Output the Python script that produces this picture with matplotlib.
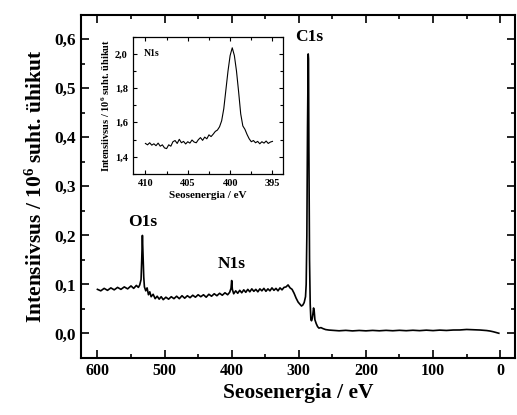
import numpy as np
import matplotlib
matplotlib.use("Agg")
import matplotlib.pyplot as plt
from matplotlib.ticker import MultipleLocator, FuncFormatter

plt.rcParams['font.family'] = ['Liberation Serif', 'DejaVu Serif']
plt.rcParams['font.weight'] = 'bold'
plt.rcParams['mathtext.fontset'] = 'custom'
plt.rcParams['mathtext.rm'] = 'Liberation Serif:bold'
plt.rcParams['mathtext.bf'] = 'Liberation Serif:bold'
plt.rcParams['mathtext.default'] = 'rm'

# ülevaatespekter
energy = [600, 595, 590, 585, 580, 575, 570, 565, 560, 555, 550, 546, 542, 539, 537,
          535, 534, 533, 532, 531, 530, 528, 526, 524, 522, 520, 517, 514, 511, 508,
          505, 502, 498, 494, 490, 486, 482, 478, 474, 470, 466, 462, 458, 454, 450,
          446, 442, 438, 434, 430, 426, 422, 418, 414, 410, 406, 403, 401, 400, 399,
          397, 394, 391, 388, 385, 382, 379, 376, 373, 370, 367, 364, 361, 358, 355,
          352, 349, 346, 343, 340, 337, 334, 331, 328, 325, 322, 319, 316, 313, 310,
          307, 304, 301, 298, 296, 294, 292, 290, 289, 288, 287, 286, 285.5, 285, 284,
          283, 282, 281, 280, 279, 278, 277, 276, 274, 272, 270, 267, 264, 260, 255,
          250, 240, 230, 220, 210, 200, 190, 180, 170, 160, 150, 140, 130, 120, 110,
          100, 90, 80, 70, 60, 50, 40, 30, 20, 15, 10, 5, 2]
intensity = [0.090, 0.087, 0.092, 0.088, 0.093, 0.089, 0.094, 0.090, 0.095, 0.091, 0.097, 0.092, 0.098, 0.094, 0.099,
             0.110, 0.150, 0.200, 0.160, 0.115, 0.095, 0.087, 0.093, 0.079, 0.085, 0.075, 0.080, 0.071, 0.076, 0.070,
             0.075, 0.069, 0.074, 0.070, 0.075, 0.071, 0.076, 0.071, 0.077, 0.072, 0.077, 0.073, 0.078, 0.074, 0.079,
             0.075, 0.079, 0.074, 0.080, 0.076, 0.081, 0.077, 0.082, 0.078, 0.083, 0.079, 0.084, 0.092, 0.108, 0.090,
             0.081, 0.087, 0.082, 0.088, 0.083, 0.089, 0.084, 0.090, 0.085, 0.091, 0.086, 0.090, 0.085, 0.091, 0.087,
             0.092, 0.086, 0.091, 0.087, 0.093, 0.088, 0.092, 0.087, 0.093, 0.089, 0.094, 0.095, 0.099, 0.093, 0.090,
             0.082, 0.072, 0.064, 0.059, 0.056, 0.058, 0.063, 0.075, 0.100, 0.200, 0.420, 0.570, 0.560, 0.380, 0.150,
             0.060, 0.028, 0.026, 0.030, 0.040, 0.052, 0.045, 0.028, 0.020, 0.014, 0.011, 0.012, 0.010, 0.008, 0.007,
             0.0065, 0.0055, 0.0064, 0.0053, 0.0062, 0.0054, 0.0063, 0.0055, 0.0064, 0.0056, 0.0065, 0.0057, 0.0066, 0.0058, 0.0068,
             0.0059, 0.0069, 0.0062, 0.0071, 0.0072, 0.0082, 0.0077, 0.0071, 0.0060, 0.0050, 0.0035, 0.0015, 0.0005]

# N1s detailspekter
n1s_energy = [410.0, 409.75, 409.5, 409.25, 409.0, 408.75, 408.5, 408.25, 408.0, 407.75,
              407.5, 407.25, 407.0, 406.75, 406.5, 406.25, 406.0, 405.75, 405.5, 405.25,
              405.0, 404.75, 404.5, 404.25, 404.0, 403.75, 403.5, 403.25, 403.0, 402.75,
              402.5, 402.25, 402.0, 401.75, 401.5, 401.25, 401.0, 400.75, 400.5, 400.25,
              400.0, 399.75, 399.5, 399.25, 399.0, 398.75, 398.5, 398.25, 398.0, 397.75,
              397.5, 397.25, 397.0, 396.75, 396.5, 396.25, 396.0, 395.75, 395.5, 395.25, 395.0]
n1s_intensity = [1.478, 1.470, 1.482, 1.468, 1.476, 1.465, 1.480, 1.462, 1.470, 1.452,
                 1.448, 1.470, 1.462, 1.488, 1.495, 1.478, 1.502, 1.482, 1.490, 1.475,
                 1.488, 1.480, 1.498, 1.486, 1.482, 1.500, 1.512, 1.496, 1.515, 1.505,
                 1.528, 1.518, 1.532, 1.548, 1.556, 1.575, 1.610, 1.680, 1.790, 1.900,
                 1.990, 2.035, 1.990, 1.900, 1.780, 1.650, 1.580, 1.560, 1.530, 1.505,
                 1.488, 1.495, 1.482, 1.490, 1.476, 1.488, 1.480, 1.492, 1.478, 1.486, 1.490]

fig = plt.figure(figsize=(5.17, 4.15), dpi=100)
ax = fig.add_axes([0.156, 0.1373, 0.840, 0.8273])
ax.plot(energy, intensity, color='black', lw=1.2)
ax.set_xlim(625, -22)
ax.set_ylim(-0.05, 0.65)
ax.xaxis.set_major_locator(MultipleLocator(100))
ax.xaxis.set_minor_locator(MultipleLocator(50))
ax.yaxis.set_major_locator(MultipleLocator(0.1))
ax.yaxis.set_minor_locator(MultipleLocator(0.05))
ax.yaxis.set_major_formatter(FuncFormatter(lambda v, p: ('%.1f' % v).replace('.', ',')))
ax.tick_params(which='both', direction='in', top=True, right=True, width=1.2)
ax.tick_params(which='major', length=6)
ax.tick_params(which='minor', length=3)
ax.tick_params(axis='x', labelsize=11.5)
ax.tick_params(axis='y', labelsize=12.5)
for s in ax.spines.values():
    s.set_linewidth(1.5)
ax.set_xlabel('Seosenergia / eV', fontsize=15.5, fontweight='bold', labelpad=3)
ax.set_ylabel('Intensiivsus / 10$^6$ suht. ühikut', fontsize=15.5, fontweight='bold', labelpad=5)

ax.text(533, 0.212, 'O1s', ha='center', va='bottom', fontsize=12.5, fontweight='bold')
ax.text(400, 0.126, 'N1s', ha='center', va='bottom', fontsize=12.5, fontweight='bold')
ax.text(284, 0.588, 'C1s', ha='center', va='bottom', fontsize=12.5, fontweight='bold')

ins = fig.add_axes([0.2567, 0.5807, 0.290, 0.331])
ins.plot(n1s_energy, n1s_intensity, color='black', lw=0.8)
ins.set_xlim(411.5, 393.8)
ins.set_ylim(1.3, 2.1)
ins.xaxis.set_major_locator(MultipleLocator(5))
ins.xaxis.set_minor_locator(MultipleLocator(2.5))
ins.yaxis.set_major_locator(MultipleLocator(0.2))
ins.yaxis.set_minor_locator(MultipleLocator(0.1))
ins.yaxis.set_major_formatter(FuncFormatter(lambda v, p: ('%.1f' % v).replace('.', ',')))
ins.tick_params(which='both', direction='in', top=True, right=True, width=0.8, labelsize=7.5)
ins.tick_params(which='major', length=3)
ins.tick_params(which='minor', length=2)
for s in ins.spines.values():
    s.set_linewidth(0.9)
ins.set_xlabel('Seosenergia / eV', fontsize=8, fontweight='bold', labelpad=2)
ins.set_ylabel('Intensiivsus / 10$^6$ suht. ühikut', fontsize=7.5, fontweight='bold', labelpad=2)
ins.text(410.2, 1.975, 'N1s', ha='left', va='bottom', fontsize=7, fontweight='bold')

fig.savefig('out.png', dpi=100)
